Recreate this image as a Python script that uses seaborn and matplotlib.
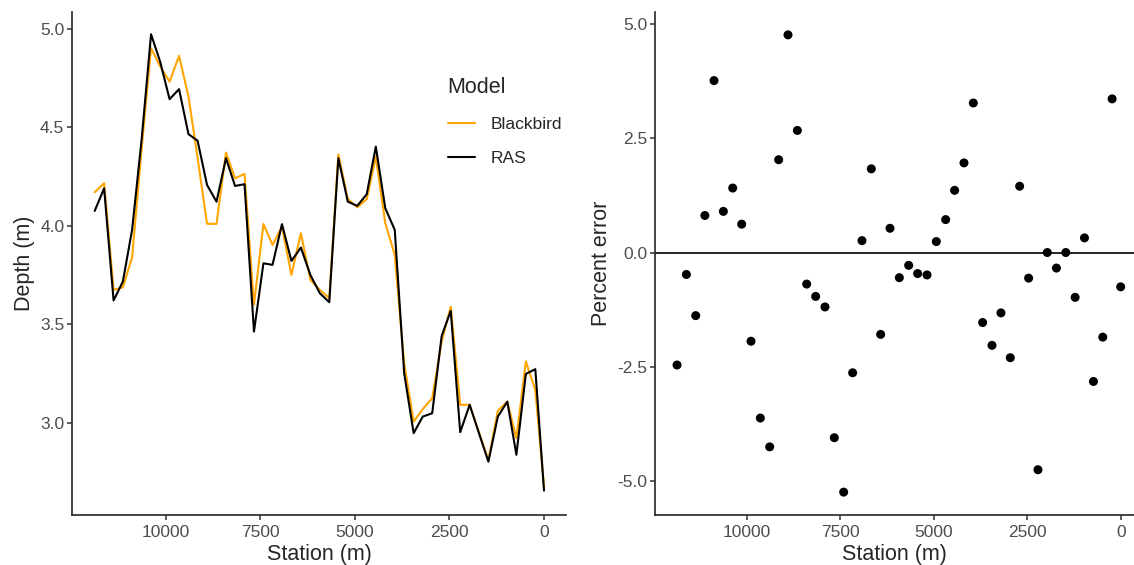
import numpy as np
import pandas as pd
import matplotlib
matplotlib.use("Agg")
import matplotlib.pyplot as plt
import seaborn as sns

# values
station = [11875, 11625, 11375, 11130, 10885, 10635, 10385, 10145, 9895, 9645,
           9395, 9155, 8905, 8655, 8405, 8165, 7915, 7665, 7415, 7175,
           6925, 6675, 6425, 6175, 5925, 5675, 5435, 5185, 4935, 4685,
           4445, 4195, 3945, 3695, 3445, 3205, 2955, 2705, 2465, 2215,
           1965, 1720, 1470, 1220, 970, 730, 480, 230, 0]

depth_ras = [4.075, 4.19, 3.62, 3.716, 3.98, 4.436, 4.973, 4.834, 4.643, 4.694,
             4.465, 4.432, 4.207, 4.122, 4.343, 4.202, 4.211, 3.462, 3.809, 3.801,
             4.008, 3.821, 3.889, 3.75, 3.657, 3.611, 4.343, 4.122, 4.101, 4.16,
             4.402, 4.089, 3.979, 3.25, 2.946, 3.03, 3.047, 3.44, 3.567, 2.951,
             3.09, 2.946, 2.801, 3.03, 3.106, 2.836, 3.247, 3.271, 2.654]

depth_blackbird = [4.17, 4.216, 3.674, 3.687, 3.84, 4.39, 4.902, 4.81, 4.732, 4.863,
                   4.656, 4.345, 4.01, 4.009, 4.372, 4.241, 4.263, 3.598, 4.009, 3.902,
                   3.995, 3.75, 3.962, 3.725, 3.674, 3.632, 4.363, 4.136, 4.094, 4.135,
                   4.351, 4.013, 3.852, 3.30, 3.005, 3.068, 3.123, 3.411, 3.589, 3.09,
                   3.09, 2.95, 2.81, 3.06, 3.106, 2.92, 3.31, 3.166, 2.674]

pct_error = [-2.46, -0.48, -1.38, 0.81, 3.76, 0.90, 1.41, 0.62, -1.94, -3.62,
             -4.25, 2.03, 4.76, 2.67, -0.69, -0.96, -1.19, -4.05, -5.24, -2.63,
             0.26, 1.83, -1.79, 0.53, -0.55, -0.28, -0.46, -0.49, 0.24, 0.72,
             1.36, 1.96, 3.27, -1.53, -2.03, -1.32, -2.30, 1.45, -0.56, -4.75,
             0.0, -0.34, 0.0, -0.98, 0.32, -2.82, -1.85, 3.36, -0.75]

models = ["Blackbird", "RAS"]
model_colors = {"Blackbird": "orange", "RAS": "black"}

depth_df = pd.DataFrame({
    "Station": station * 2,
    "Depth": depth_blackbird + depth_ras,
    "Model": ["Blackbird"] * len(station) + ["RAS"] * len(station),
})
err_df = pd.DataFrame({"Station": station, "Error": pct_error})

sns.set_style("ticks")
plt.rcParams["font.family"] = ["Liberation Sans", "DejaVu Sans"]

fig = plt.figure(figsize=(11.34, 5.65), dpi=100)
W, H = 1134, 565
ax1 = fig.add_axes([72 / W, 50 / H, (566 - 72) / W, 503 / H])
ax2 = fig.add_axes([654.7 / W, 50 / H, (W - 654.7) / W, 503 / H])

# left: depth along the reach
sns.lineplot(data=depth_df, x="Station", y="Depth", hue="Model", hue_order=models,
             palette=model_colors, linewidth=1.5, ax=ax1, sort=False)
ax1.set_xlim(12474, -581)
ax1.set_ylim(2.53, 5.086)
ax1.set_xticks([10000, 7500, 5000, 2500, 0])
ax1.set_yticks([3.0, 3.5, 4.0, 4.5, 5.0])
ax1.set_yticklabels(["3.0", "3.5", "4.0", "4.5", "5.0"])
ax1.set_xlabel("Station (m)", fontsize=15.5, labelpad=3)
ax1.set_ylabel("Depth (m)", fontsize=15.5, labelpad=4)

leg = ax1.legend(title="Model", frameon=False, loc="upper left",
                 bbox_to_anchor=(432 / W, 1 - 61 / H), bbox_transform=fig.transFigure,
                 fontsize=12.5, title_fontsize=15.5, handlelength=1.6,
                 handletextpad=0.85, labelspacing=1.1)
leg._legend_box.align = "left"
for line in leg.get_lines():
    line.set_linewidth(1.5)

# right: percent error
ax2.axhline(0, color="black", linewidth=1.2, zorder=1)
sns.scatterplot(data=err_df, x="Station", y="Error", color="black", s=42,
                edgecolor="none", ax=ax2, zorder=3)
ax2.set_xlim(12473, -356)
ax2.set_ylim(-5.74, 5.26)
ax2.set_xticks([10000, 7500, 5000, 2500, 0])
ax2.set_yticks([-5.0, -2.5, 0.0, 2.5, 5.0])
ax2.set_yticklabels(["-5.0", "-2.5", "0.0", "2.5", "5.0"])
ax2.set_xlabel("Station (m)", fontsize=15.5, labelpad=3)
ax2.set_ylabel("Percent error", fontsize=15.5, labelpad=4)

for ax in (ax1, ax2):
    sns.despine(ax=ax)
    ax.spines["left"].set_linewidth(1.2)
    ax.spines["bottom"].set_linewidth(1.2)
    ax.tick_params(axis="both", length=3.5, width=1.1, color="#333333",
                   labelsize=12.5, labelcolor="#4D4D4D")
    ax.tick_params(axis="x", pad=3.5)
    ax.tick_params(axis="y", pad=2)

fig.savefig("out.png", dpi=100)
